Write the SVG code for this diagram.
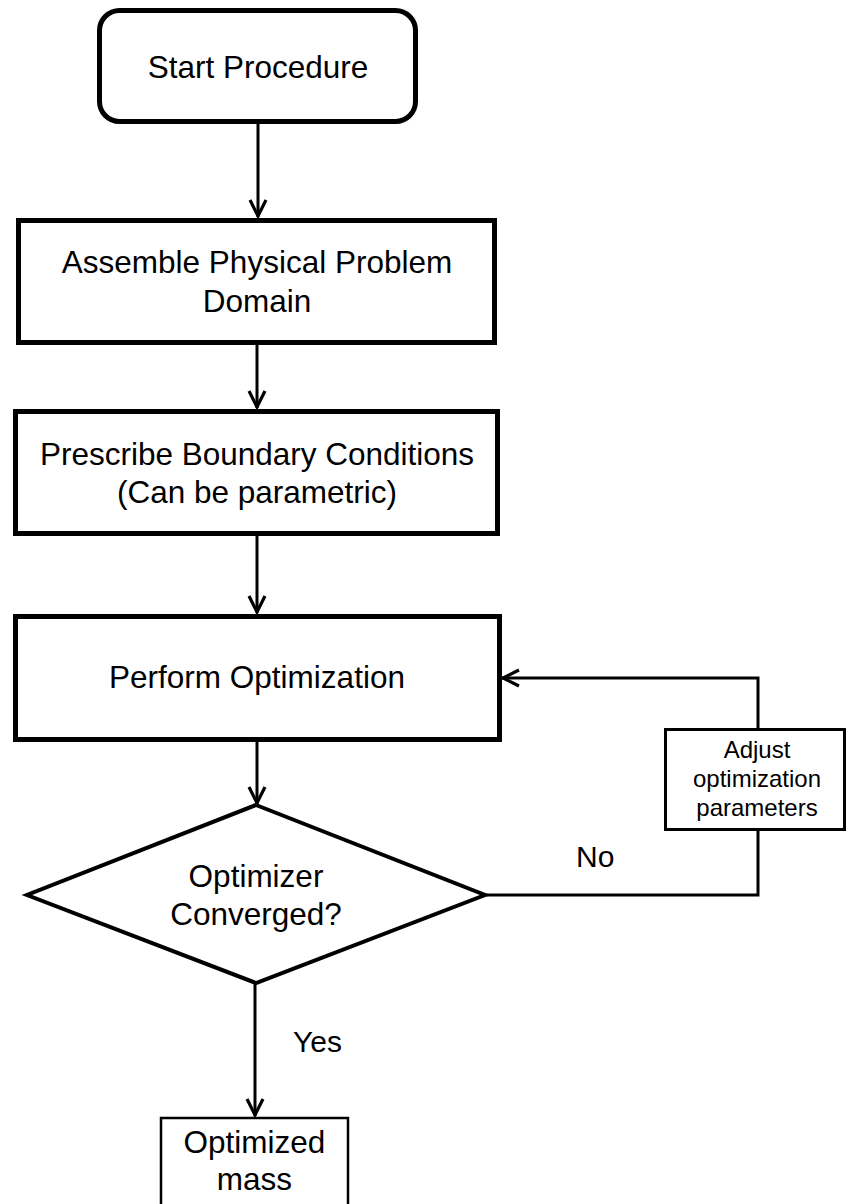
<svg xmlns="http://www.w3.org/2000/svg" width="846" height="1204" viewBox="0 0 846 1204">
  <style>
    .lbl { font-family: "Liberation Sans", Arial, sans-serif; font-size: 31.5px; fill: #000; text-anchor: middle; }
    .small { font-size: 24px; }
    .edge-lbl { font-family: "Liberation Sans", Arial, sans-serif; font-size: 30px; fill: #000; }
    .box { fill: #fff; stroke: #000; stroke-width: 5; }
    .thin { fill: #fff; stroke: #000; stroke-width: 3; }
    .conn { fill: none; stroke: #000; stroke-width: 3; }
  </style>
  <defs>
    <marker id="arrow" viewBox="-20 -12 24 24" markerWidth="24" markerHeight="24" refX="0" refY="0" orient="auto" markerUnits="userSpaceOnUse">
      <path d="M-17,-8 L-1,0 L-17,8" fill="none" stroke="#000" stroke-width="3.2" stroke-miterlimit="10"/>
    </marker>
  </defs>
  <rect width="846" height="1204" fill="#fff"/>

  <!-- connectors -->
  <g id="connectors" class="conn">
    <path d="M258,124 V217" marker-end="url(#arrow)"/>
    <path d="M257,345 V408" marker-end="url(#arrow)"/>
    <path d="M257,536 V613" marker-end="url(#arrow)"/>
    <path d="M257,742 V804" marker-end="url(#arrow)"/>
    <path d="M255,983 V1116" marker-end="url(#arrow)"/>
    <path d="M485,895 H758 V831"/>
    <path d="M758,728 V678 H502" marker-end="url(#arrow)"/>
  </g>

  <g id="start">
    <rect class="box" x="99.5" y="10.5" width="316" height="111" rx="20" ry="20"/>
    <text class="lbl" x="258" y="78">Start Procedure</text>
  </g>

  <g id="assemble">
    <rect class="box" x="18.5" y="220.5" width="476" height="122"/>
    <text class="lbl" x="257" y="273">Assemble Physical Problem</text>
    <text class="lbl" x="257" y="312">Domain</text>
  </g>

  <g id="boundary">
    <rect class="box" x="15.5" y="411.5" width="482" height="122"/>
    <text class="lbl" x="257" y="465">Prescribe Boundary Conditions</text>
    <text class="lbl" x="257" y="503">(Can be parametric)</text>
  </g>

  <g id="optimize">
    <rect class="box" x="15.5" y="616.5" width="484" height="123"/>
    <text class="lbl" x="257" y="688">Perform Optimization</text>
  </g>

  <g id="converged">
    <polygon points="256,805 485,895 256,983 27,895" fill="#fff" stroke="#000" stroke-width="4"/>
    <text class="lbl" x="256" y="887">Optimizer</text>
    <text class="lbl" x="256" y="925">Converged?</text>
  </g>

  <g id="adjust">
    <rect class="thin" x="665.5" y="729.5" width="179" height="100"/>
    <text class="lbl small" x="757" y="758">Adjust</text>
    <text class="lbl small" x="757" y="787">optimization</text>
    <text class="lbl small" x="757" y="816">parameters</text>
  </g>

  <g id="result">
    <rect x="161" y="1118" width="187" height="100" fill="#fff" stroke="#000" stroke-width="2.5"/>
    <text class="lbl" x="254.5" y="1153">Optimized</text>
    <text class="lbl" x="254.5" y="1190">mass</text>
  </g>

  <g id="edge-labels">
    <text class="edge-lbl" x="576" y="867">No</text>
    <text class="edge-lbl" x="293" y="1052">Yes</text>
  </g>
</svg>
